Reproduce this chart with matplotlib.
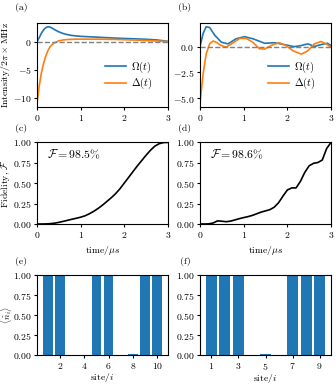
import numpy as np
import matplotlib
matplotlib.use('Agg')
import matplotlib.pyplot as plt

plt.rcParams['font.family'] = 'serif'
plt.rcParams['font.serif'] = ['cmr10']
plt.rcParams['mathtext.fontset'] = 'cm'
plt.rcParams['axes.formatter.use_mathtext'] = True
plt.rcParams['font.size'] = 7
plt.rcParams['axes.linewidth'] = 0.8
plt.rcParams['xtick.major.size'] = 2.5
plt.rcParams['ytick.major.size'] = 2.5
plt.rcParams['xtick.major.pad'] = 1.5
plt.rcParams['ytick.major.pad'] = 1.5

# (a) pulse shapes
t_a = [0, 0.05, 0.1, 0.15, 0.2, 0.25, 0.3, 0.35, 0.4, 0.5, 0.6, 0.7, 0.8, 1.0,
       1.25, 1.5, 1.75, 2.0, 2.25, 2.5, 2.75, 2.9, 3.0]
omega_a = [0, 0.7, 1.5, 2.1, 2.5, 2.65, 2.6, 2.4, 2.15, 1.75, 1.45, 1.25, 1.1, 0.95,
           0.85, 0.75, 0.65, 0.57, 0.5, 0.42, 0.3, 0.15, 0.05]
delta_a = [-11.0, -8.0, -5.6, -3.9, -2.6, -1.6, -0.9, -0.5, -0.2, 0.15, 0.3, 0.38, 0.42, 0.45,
           0.44, 0.43, 0.4, 0.35, 0.28, 0.2, 0.12, 0.06, 0.0]

# (b) pulse shapes
t_b = [0, 0.07, 0.14, 0.22, 0.34, 0.49, 0.64, 0.83, 1.02, 1.21, 1.48, 1.71, 1.93,
       2.16, 2.31, 2.47, 2.62, 2.77, 2.92, 3.0]
omega_b = [0, 1.27, 1.93, 1.87, 1.1, 0.43, 0.27, 0.77, 0.97, 0.77, 0.33, 0.38, 0.2,
           0.0, 0.1, 0.27, 0.02, 0.2, 0.33, 0.1]
t_b2 = [0, 0.07, 0.14, 0.22, 0.3, 0.37, 0.49, 0.6, 0.72, 0.91, 1.06, 1.21, 1.36, 1.48,
        1.67, 1.82, 1.97, 2.13, 2.32, 2.47, 2.62, 2.77, 2.89, 3.0]
delta_b = [-5.5, -2.7, -0.73, 0.27, 0.55, 0.43, 0.1, -0.05, 0.27, 0.8, 0.8, 0.43, -0.2, -0.23,
           0.2, 0.38, 0.1, -0.4, -0.73, -0.4, 0.27, 0.5, 0.27, -0.07]

# (c), (d) fidelity
t_f = [0, 0.1, 0.2, 0.3, 0.4, 0.5, 0.6, 0.7, 0.8, 0.9, 1.0, 1.1, 1.2, 1.3, 1.4, 1.5,
       1.6, 1.7, 1.8, 1.9, 2.0, 2.1, 2.2, 2.3, 2.4, 2.5, 2.6, 2.7, 2.8, 2.9, 3.0]
fid_c = [0, 0, 0.001, 0.004, 0.01, 0.02, 0.032, 0.045, 0.058, 0.07, 0.083, 0.1, 0.125,
         0.155, 0.19, 0.23, 0.275, 0.32, 0.37, 0.43, 0.5, 0.57, 0.64, 0.71, 0.775, 0.84,
         0.9, 0.95, 0.98, 0.993, 0.995]
fid_d = [0, 0, 0.002, 0.012, 0.038, 0.034, 0.028, 0.035, 0.05, 0.065, 0.078, 0.09, 0.105,
         0.125, 0.145, 0.16, 0.175, 0.205, 0.26, 0.34, 0.415, 0.44, 0.44, 0.52, 0.63, 0.71,
         0.74, 0.75, 0.78, 0.92, 0.995]

# (e), (f) occupations
sites_e = [1, 2, 3, 4, 5, 6, 7, 8, 9, 10]
n_e = [0.995, 0.998, 0.004, 0.004, 0.995, 0.995, 0.003, 0.015, 0.998, 0.996]
sites_f = [1, 2, 3, 4, 5, 6, 7, 8, 9]
n_f = [0.998, 0.998, 0.998, 0.002, 0.012, 0.002, 0.998, 0.998, 0.998]

W, H = 336, 384
fig = plt.figure(figsize=(3.36, 3.84), dpi=100)


def box(l, t, w, h):
    return [l / W, 1 - (t + h) / H, w / W, h / H]


ax_a = fig.add_axes(box(37, 23, 131, 84))
ax_b = fig.add_axes(box(200, 23, 131, 84))
ax_c = fig.add_axes(box(37, 142, 131, 82))
ax_d = fig.add_axes(box(200, 142, 131, 82))
ax_e = fig.add_axes(box(37, 275, 131, 80))
ax_f = fig.add_axes(box(200, 275, 131, 80))

for ax, t1, om, t2, de in [(ax_a, t_a, omega_a, t_a, delta_a),
                           (ax_b, t_b, omega_b, t_b2, delta_b)]:
    ax.plot(t1, om, color='C0', lw=1.2, label=r'$\Omega(t)$')
    ax.plot(t2, de, color='C1', lw=1.2, label=r'$\Delta(t)$')
    ax.axhline(0, color='gray', ls='--', lw=1)
    ax.set_xlim(0, 3)
    ax.set_xticks([0, 1, 2, 3])
    ax.legend(loc='lower right', frameon=False, fontsize=7.5, handlelength=2.0,
              borderaxespad=1.1, labelspacing=0.15, handletextpad=0.5)
ax_a.set_yticks([-10, -5, 0])
ax_b.set_yticks([-5, -2.5, 0])
ax_a.set_ylabel(r'Intensity$/2\pi\times$MHz')

for ax, fid, txt in [(ax_c, fid_c, r'$\mathcal{F}=98.5\%$'),
                     (ax_d, fid_d, r'$\mathcal{F}=98.6\%$')]:
    ax.plot(t_f, fid, color='k', lw=1.2)
    ax.set_xlim(0, 3)
    ax.set_ylim(0, 1)
    ax.set_xticks([0, 1, 2, 3])
    ax.set_yticks([0, 0.25, 0.5, 0.75, 1.0])
    ax.set_xlabel(r'time$/\mu s$', labelpad=3)
    ax.text(0.076, 0.85, txt, transform=ax.transAxes, fontsize=8.5, va='center')
ax_c.set_ylabel(r'Fidelity, $\mathcal{F}$')

ax_e.bar(sites_e, n_e, color='C0')
ax_f.bar(sites_f, n_f, color='C0')
for ax in (ax_e, ax_f):
    ax.set_ylim(0, 1)
    ax.set_yticks([0, 0.25, 0.5, 0.75, 1.0])
    ax.set_xlabel(r'site$/i$', labelpad=0)
ax_e.set_xticks([2, 4, 6, 8, 10])
ax_f.set_xticks([1, 3, 5, 7, 9])
ax_e.set_ylabel(r'$\langle\hat{n}_i\rangle$', fontsize=6.5)

# y labels sit near the left edge like the reference
for ax in (ax_a, ax_c):
    ax.yaxis.set_label_coords(-24.5 / 131, 0.5)
ax_e.yaxis.set_label_coords(-23.5 / 131, 0.5)

for lab, x, y in [('(a)', 21.5, 7), ('(b)', 185, 7), ('(c)', 21.5, 128.5),
                  ('(d)', 185, 128.5), ('(e)', 21.5, 261), ('(f)', 185, 261)]:
    fig.text(x / W, 1 - y / H, lab, ha='center', va='center', fontsize=7)

fig.savefig('out.png', dpi=100)
